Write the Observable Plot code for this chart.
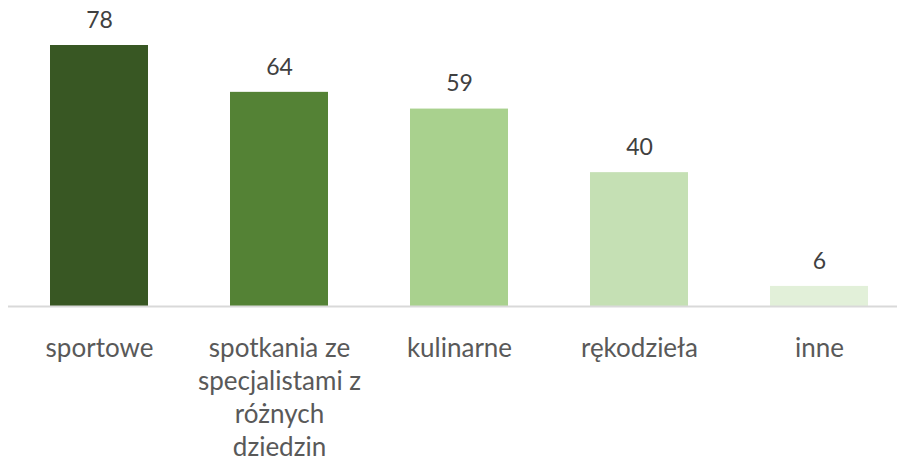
<!DOCTYPE html>
<html>
<head>
<meta charset="utf-8">
<script src="https://cdn.jsdelivr.net/npm/d3@7"></script>
<script src="https://cdn.jsdelivr.net/npm/@observablehq/plot@0.6"></script>
<style>
  html, body { margin: 0; padding: 0; background: #fff; }
  #chart svg { display: block; }
</style>
</head>
<body>
<div id="chart"></div>
<script>
const categories = ["sportowe", "spotkania ze specjalistami z różnych dziedzin", "kulinarne", "rękodzieła", "inne"];
const tickLabels = ["sportowe", "spotkania ze\nspecjalistami z\nróżnych\ndziedzin", "kulinarne", "rękodzieła", "inne"];
const values = [78, 64, 59, 40, 6];
const colors = ["#385723", "#548235", "#A9D18E", "#C5E0B4", "#E2F0D9"];

const data = categories.map((c, i) => ({category: c, value: values[i], color: colors[i]}));
const labelOf = new Map(categories.map((c, i) => [c, tickLabels[i]]));

const chart = Plot.plot({
  width: 897,
  height: 463,
  marginLeft: 8,
  marginRight: 0,
  marginTop: 45,
  marginBottom: 157,
  style: {fontFamily: "Lato, 'Open Sans', sans-serif", background: "#fff"},
  x: {domain: categories, range: [9, 910], paddingInner: 0.455, paddingOuter: 0.2275, label: null},
  y: {domain: [0, 78], axis: null},
  marks: [
    Plot.barY(data, {x: "category", y: "value", fill: "color"}),
    Plot.ruleY([0], {stroke: "#D9D9D9", strokeWidth: 2}),
    Plot.text(data, {x: "category", y: "value", text: d => String(d.value), dy: -25, fontSize: 23, fill: "#404040"}),
    Plot.axisX({tickSize: 0, tickPadding: 27, fontSize: 26, lineHeight: 1.27, fill: "#595959", tickFormat: d => labelOf.get(d), textAnchor: "middle"})
  ]
});
document.getElementById("chart").appendChild(chart);
</script>
</body>
</html>
